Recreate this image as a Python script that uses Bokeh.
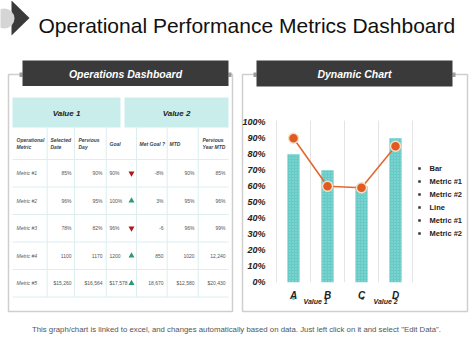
from bokeh.plotting import figure
from bokeh.models import Range1d, LinearAxis, FixedTicker, NumeralTickFormatter, ColumnDataSource
from bokeh.core.properties import value
from bokeh.embed import file_html
from bokeh.resources import INLINE

FONT = value("Liberation Sans")

# ---------------- texts ----------------
title_text = "Operational Performance Metrics Dashboard"
footer_text = ('This graph/chart is linked to excel, and changes automatically  based on data. '
               'Just left click on it and select "Edit Data".')
panel_headers = ["Operations Dashboard", "Dynamic Chart"]

# ---------------- chart data ----------------
categories = ["A", "B", "C", "D"]
bar_values = [0.80, 0.70, 0.60, 0.90]
line_values = [0.90, 0.60, 0.59, 0.85]
y_ticks = [0.0, 0.1, 0.2, 0.3, 0.4, 0.5, 0.6, 0.7, 0.8, 0.9, 1.0]
series_names = ["Value 1", "Value 2"]
legend_items = ["Bar", "Metric #1", "Metric #2", "Line", "Metric #1", "Metric #2"]

# ---------------- table data ----------------
group_headers = ["Value 1", "Value 2"]
column_headers = ["Operational\nMetric", "Selected\nDate", "Pervious\nDay", "Goal",
                  "Met Goal ?", "MTD", "Pervious\nYear MTD"]
metrics = ["Metric #1", "Metric #2", "Metric #3", "Metric #4", "Metric #5"]
selected_date = ["85%", "96%", "78%", "1100", "$15,260"]
previous_day = ["90%", "95%", "82%", "1170", "$16,564"]
goal = ["90%", "100%", "96%", "1200", "$17,578"]
goal_met = [False, True, False, True, True]
met_goal = ["-8%", "3%", "-6", "850", "18,670"]
mtd = ["90%", "95%", "96%", "1020", "$12,580"]
previous_year_mtd = ["85%", "96%", "99%", "12,240", "$20,430"]

# ---------------- page figure (pixel coordinates) ----------------
W, H = 474, 355
p = figure(width=W, height=H, x_range=Range1d(0, W), y_range=Range1d(H, 0),
           output_backend="svg", toolbar_location=None,
           x_axis_location=None, y_axis_location=None, min_border=0,
           outline_line_color=None, background_fill_color="white", border_fill_color="white")
p.grid.visible = False

# title decoration
p.patch(x=[11, 29, 11], y=[0, 17.5, 35], fill_color="#3a3a3a", line_color=None)
p.circle(x=[4], y=[18], radius=10, fill_color="#d5d5d5", line_color=None)
p.text(x=[38], y=[24.5], text=[title_text], text_font=FONT, text_font_size="21px",
       text_color="#111111", text_align="left", text_baseline="alphabetic")

# panels
p.quad(left=[8, 242], right=[232, 467], top=[74, 74], bottom=[311, 311],
       fill_color=None, line_color="#cfcfcf", line_width=1.5)
p.quad(left=[19, 228, 253, 452], right=[22, 231, 256, 455], top=[72, 72, 72, 72],
       bottom=[76.5, 76.5, 76.5, 76.5], fill_color="#9c9c9c", line_color=None)
p.quad(left=[22, 256], right=[228, 452], top=[60, 60], bottom=[85.5, 86],
       fill_color="#3a3a3a", line_color=None)
p.text(x=[125, 354], y=[73, 73], text=panel_headers, text_font=FONT, text_font_size="10.5px",
       text_font_style="bold italic", text_color="white", text_align="center",
       text_baseline="middle")

# ---------------- table ----------------
tbl_left, tbl_right = 12, 228
grp_top, grp_bottom = 97, 127
hdr_bottom = 159
row_h = 27.5
col_lines = [46.7, 74, 105.7, 136, 166.7, 197.7]
n_rows = len(metrics)

p.quad(left=[tbl_left, 124], right=[120, tbl_right], top=[grp_top] * 2, bottom=[grp_bottom] * 2,
       fill_color="#c9edeb", line_color=None)
p.text(x=[66, 176], y=[113, 113], text=group_headers, text_font=FONT, text_font_size="8px",
       text_font_style="bold italic", text_color="#222222", text_align="center",
       text_baseline="middle")

row_lines = [hdr_bottom + i * row_h for i in range(n_rows + 1)]
table_bottom = row_lines[-1]
p.segment(x0=col_lines, y0=[grp_bottom] * len(col_lines), x1=col_lines,
          y1=[table_bottom] * len(col_lines), line_color="#dceeee", line_width=1)
p.segment(x0=[tbl_left] * len(row_lines), y0=row_lines, x1=[tbl_right] * len(row_lines),
          y1=row_lines, line_color="#dceeee", line_width=1)

hdr_x = [16, 50, 78, 109, 139, 169, 202]
p.text(x=hdr_x, y=[(grp_bottom + hdr_bottom) / 2] * len(hdr_x), text=column_headers,
       text_font=FONT, text_font_size="5px", text_font_style="bold italic",
       text_color="#444444", text_align="left", text_baseline="middle", text_line_height=1.15)

row_y = [hdr_bottom + i * row_h + row_h / 2 for i in range(n_rows)]
src = ColumnDataSource(dict(
    y=row_y, metric=metrics, sel=selected_date, prev=previous_day, goal=goal,
    met=met_goal, mtd=mtd, pym=previous_year_mtd,
    marker=["triangle" if g else "inverted_triangle" for g in goal_met],
    mcolor=["#2e9a6e" if g else "#b3141c" for g in goal_met],
))
common = dict(y="y", source=src, text_font=FONT, text_font_size="5px", text_color="#555555",
              text_baseline="middle")
p.text(x=16, text="metric", text_align="left", text_font_style="italic", **common)
p.text(x=71, text="sel", text_align="right", **common)
p.text(x=102, text="prev", text_align="right", **common)
p.text(x=109, text="goal", text_align="left", **common)
p.text(x=163, text="met", text_align="right", **common)
p.text(x=194, text="mtd", text_align="right", **common)
p.text(x=225, text="pym", text_align="right", **common)
p.scatter(x=131, y="y", marker="marker", size=6, fill_color="mcolor", line_color=None, source=src)

# ---------------- chart (own ranges mapped into the right panel) ----------------
px_per_cat = 34.0
cat0_px = 293.0
px_per_unit = 160.0
zero_px = 281.7
p.extra_x_ranges = {"cx": Range1d(-cat0_px / px_per_cat, (W - cat0_px) / px_per_cat)}
p.extra_y_ranges = {"cy": Range1d((zero_px - H) / px_per_unit, zero_px / px_per_unit)}

idx = list(range(len(categories)))
bounds = [i - 0.5 for i in range(len(categories) + 1)]
p.segment(x0=bounds, y0=[0] * len(bounds), x1=bounds, y1=[1.01] * len(bounds),
          line_color="#e4e4e4", line_width=1, x_range_name="cx", y_range_name="cy")

p.vbar(x=idx, top=bar_values, bottom=0, width=0.36, fill_color="#66cbc7", line_color=None,
       hatch_pattern="dot", hatch_color="white", hatch_alpha=0.35, hatch_scale=3,
       x_range_name="cx", y_range_name="cy")
p.line(x=idx, y=line_values, line_color="#e06a30", line_width=1.6,
       x_range_name="cx", y_range_name="cy")
p.scatter(x=idx, y=line_values, size=10, fill_color="#e05a22", line_color="#f4dfc6",
          line_width=1.5, x_range_name="cx", y_range_name="cy")

yax = LinearAxis(y_range_name="cy", fixed_location=276,
                 ticker=FixedTicker(ticks=y_ticks), formatter=NumeralTickFormatter(format="0%"),
                 axis_line_color=None, major_tick_line_color=None, minor_tick_line_color=None,
                 major_label_text_font="Liberation Sans", major_label_text_font_size="9px",
                 major_label_text_font_style="bold italic", major_label_text_color="#222222",
                 major_label_standoff=5)
p.add_layout(yax, "left")

xax = LinearAxis(x_range_name="cx", fixed_location=286,
                 ticker=FixedTicker(ticks=idx),
                 major_label_overrides={i: c for i, c in zip(idx, categories)},
                 axis_line_color=None, major_tick_line_color=None, minor_tick_line_color=None,
                 major_label_text_font="Liberation Sans", major_label_text_font_size="10px",
                 major_label_text_font_style="bold italic", major_label_text_color="#222222",
                 major_label_standoff=-3)
p.add_layout(xax, "below")

# series keys under the axis
p.scatter(x=[293, 362], y=[298, 298], size=3, marker="circle",
          fill_color=["#66cbc7", "#e05a22"], line_color=None)
p.text(x=[303, 373], y=[301, 301], text=series_names, text_font=FONT, text_font_size="7px",
       text_font_style="bold italic", text_color="#222222", text_align="left",
       text_baseline="middle")

# legend on the right
leg_y = [168 + 13 * i for i in range(len(legend_items))]
p.scatter(x=[419] * len(leg_y), y=leg_y, marker="square", size=2.5, fill_color="#333333",
          line_color=None)
p.text(x=[429] * len(leg_y), y=leg_y, text=legend_items, text_font=FONT,
       text_font_size="7.5px", text_font_style="bold", text_color="#222222",
       text_align="left", text_baseline="middle")

# footer
p.text(x=[237], y=[329], text=[footer_text], text_font=FONT, text_font_size="7.8px",
       text_color="#555555", text_align="center", text_baseline="middle")

open("out.html", "w").write(file_html(p, INLINE))
